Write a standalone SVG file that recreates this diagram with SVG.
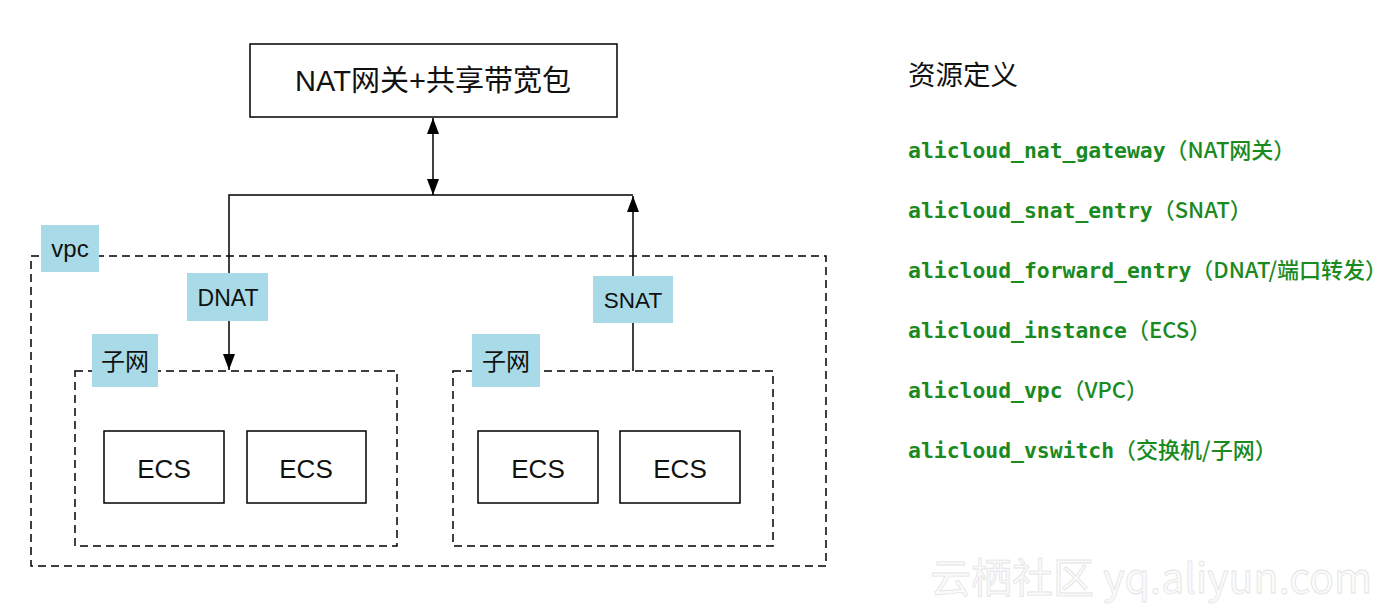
<svg xmlns="http://www.w3.org/2000/svg" width="1400" height="611" viewBox="0 0 1400 611">
<defs>
<style>
.box{fill:#fff;stroke:#000;stroke-width:1.5}
.dash{fill:none;stroke:#000;stroke-width:1.5;stroke-dasharray:8 5}
.lbl{fill:#a8dbe7}
.t{font-family:"Liberation Sans","Noto Sans CJK SC",sans-serif;fill:#111;text-anchor:middle}
.ln{fill:none;stroke:#000;stroke-width:1.5}
.code{font-family:"DejaVu Sans Mono","Liberation Mono",monospace;font-weight:bold;font-size:21.4px;fill:#1a8a1f}
.cn{font-family:"Noto Sans CJK SC","Liberation Sans",sans-serif;font-weight:500;font-size:22px}
</style>
<marker id="ah" viewBox="0 0 10 10" refX="10" refY="5" markerWidth="16" markerHeight="12" markerUnits="userSpaceOnUse" orient="auto-start-reverse" preserveAspectRatio="none">
<path d="M0,0 L10,5 L0,10 z" fill="#000"/>
</marker>
</defs>
<rect width="1400" height="611" fill="#fff"/>

<g id="vpc">
<rect class="dash" x="31" y="256" width="795" height="310"/>
</g>
<g id="subnet-left">
<rect class="dash" x="75" y="371" width="322" height="175"/>
</g>
<g id="subnet-right">
<rect class="dash" x="453" y="371" width="320" height="175"/>
</g>

<g id="connectors">
<line class="ln" x1="433" y1="118" x2="433" y2="195" marker-start="url(#ah)" marker-end="url(#ah)"/>
<polyline class="ln" points="633,195 229,195 229,370" marker-end="url(#ah)"/>
<line class="ln" x1="633" y1="371" x2="633" y2="196" marker-end="url(#ah)"/>
</g>

<g id="nat">
<rect class="box" x="250" y="44" width="367" height="73"/>
<text class="t" x="433" y="91" font-size="29">NAT网关+共享带宽包</text>
</g>

<g id="vpc-label">
<rect class="lbl" x="41" y="225" width="58" height="47"/>
<text class="t" x="70" y="257" font-size="24">vpc</text>
</g>
<g id="dnat">
<rect class="lbl" x="187" y="273" width="81" height="48"/>
<text class="t" x="228" y="306" font-size="23">DNAT</text>
</g>
<g id="snat">
<rect class="lbl" x="593" y="276" width="80" height="47"/>
<text class="t" x="633" y="308" font-size="22.5">SNAT</text>
</g>
<g id="subnet-left-label">
<rect class="lbl" x="92" y="334" width="66" height="53"/>
<text class="t" x="125" y="370" font-size="24">子网</text>
</g>
<g id="subnet-right-label">
<rect class="lbl" x="472" y="334" width="68" height="53"/>
<text class="t" x="506" y="370" font-size="24">子网</text>
</g>

<g id="ecs1"><rect class="box" x="104" y="431" width="120" height="72"/><text class="t" x="164" y="478" font-size="26">ECS</text></g>
<g id="ecs2"><rect class="box" x="247" y="431" width="119" height="72"/><text class="t" x="306" y="478" font-size="26">ECS</text></g>
<g id="ecs3"><rect class="box" x="478" y="431" width="120" height="72"/><text class="t" x="538" y="478" font-size="26">ECS</text></g>
<g id="ecs4"><rect class="box" x="620" y="431" width="120" height="72"/><text class="t" x="680" y="478" font-size="26">ECS</text></g>

<g id="legend">
<text x="908" y="85" font-family="'Noto Sans CJK SC',sans-serif" font-size="27.5" fill="#111">资源定义</text>
<text class="code" x="908" y="158">alicloud_nat_gateway<tspan class="cn">（NAT网关）</tspan></text>
<text class="code" x="908" y="218">alicloud_snat_entry<tspan class="cn">（SNAT）</tspan></text>
<text class="code" x="908" y="278">alicloud_forward_entry<tspan class="cn">（DNAT/端口转发）</tspan></text>
<text class="code" x="908" y="338">alicloud_instance<tspan class="cn">（ECS）</tspan></text>
<text class="code" x="908" y="398">alicloud_vpc<tspan class="cn">（VPC）</tspan></text>
<text class="code" x="908" y="458">alicloud_vswitch<tspan class="cn">（交换机/子网）</tspan></text>
</g>

<g id="watermark">
<text x="930" y="593" font-family="'Noto Sans CJK SC',sans-serif" font-size="41" fill="#fbfbfb" stroke="#e4e4e4" stroke-width="0.8">云栖社区 yq.aliyun.com</text>
</g>
</svg>
